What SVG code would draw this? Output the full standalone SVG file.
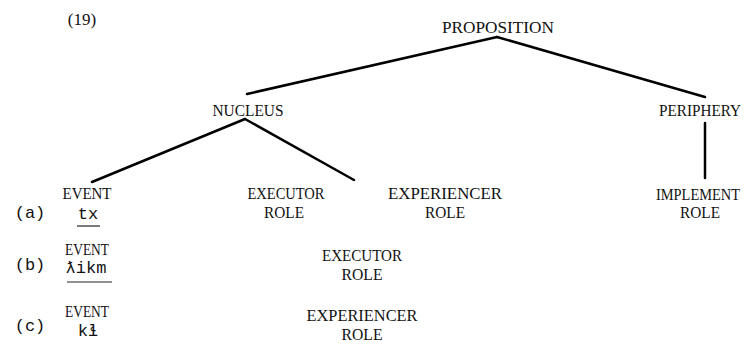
<svg xmlns="http://www.w3.org/2000/svg" width="751" height="348" viewBox="0 0 751 348">
<style>
.t{font-family:"Liberation Serif","DejaVu Serif",serif;font-size:17px;fill:#111;text-anchor:middle}
.m{font-family:"Liberation Mono","DejaVu Sans Mono",monospace;font-size:17px;fill:#111;text-anchor:middle}
.l{stroke:#000;stroke-width:2.5;fill:none;stroke-linecap:round}
.u{stroke:#222;stroke-width:1.2}
</style>
<rect width="751" height="348" fill="#fff"/>
<g id="label-19"><text class="t" x="82" y="25" font-size="18">(19)</text></g>
<g id="connectors">
<line class="l" x1="497" y1="37" x2="247" y2="94"/>
<line class="l" x1="497" y1="37" x2="705" y2="97"/>
<line class="l" x1="245" y1="119" x2="92" y2="182"/>
<line class="l" x1="245" y1="119" x2="354" y2="180"/>
<line class="l" x1="705" y1="123" x2="705" y2="178"/>
</g>
<g id="proposition"><text class="t" x="498" y="33" textLength="112" lengthAdjust="spacingAndGlyphs">PROPOSITION</text></g>
<g id="nucleus"><text class="t" x="248" y="116" textLength="71" lengthAdjust="spacingAndGlyphs">NUCLEUS</text></g>
<g id="periphery"><text class="t" x="700" y="116" textLength="82" lengthAdjust="spacingAndGlyphs">PERIPHERY</text></g>
<g id="row-a-label"><text class="m" x="30" y="218">(a)</text></g>
<g id="event-a"><text class="t" x="87" y="199" textLength="49" lengthAdjust="spacingAndGlyphs">EVENT</text><text class="m" x="88" y="219">tx</text><line class="u" x1="77" y1="226" x2="100" y2="226"/></g>
<g id="executor-a"><text class="t" x="286" y="199" textLength="77" lengthAdjust="spacingAndGlyphs">EXECUTOR</text><text class="t" x="284" y="218" textLength="40" lengthAdjust="spacingAndGlyphs">ROLE</text></g>
<g id="experiencer-a"><text class="t" x="445" y="199" textLength="114" lengthAdjust="spacingAndGlyphs">EXPERIENCER</text><text class="t" x="445" y="218" textLength="40" lengthAdjust="spacingAndGlyphs">ROLE</text></g>
<g id="implement-a"><text class="t" x="698" y="200" font-size="16" textLength="84" lengthAdjust="spacingAndGlyphs">IMPLEMENT</text><text class="t" x="700" y="218" textLength="40" lengthAdjust="spacingAndGlyphs">ROLE</text></g>
<g id="row-b-label"><text class="m" x="30" y="270">(b)</text></g>
<g id="event-b"><text class="t" x="87" y="255" textLength="44" lengthAdjust="spacingAndGlyphs">EVENT</text><text class="m" x="86" y="273">ƛikm</text><line class="u" x1="67" y1="282" x2="112" y2="282"/></g>
<g id="executor-b"><text class="t" x="362" y="261" textLength="80" lengthAdjust="spacingAndGlyphs">EXECUTOR</text><text class="t" x="362" y="280" textLength="41" lengthAdjust="spacingAndGlyphs">ROLE</text></g>
<g id="row-c-label"><text class="m" x="30" y="331">(c)</text></g>
<g id="event-c"><text class="t" x="87" y="317" textLength="44" lengthAdjust="spacingAndGlyphs">EVENT</text><text class="m" x="88" y="336">kɬ</text></g>
<g id="experiencer-c"><text class="t" x="362" y="321" textLength="111" lengthAdjust="spacingAndGlyphs">EXPERIENCER</text><text class="t" x="362" y="340" textLength="41" lengthAdjust="spacingAndGlyphs">ROLE</text></g>
</svg>
